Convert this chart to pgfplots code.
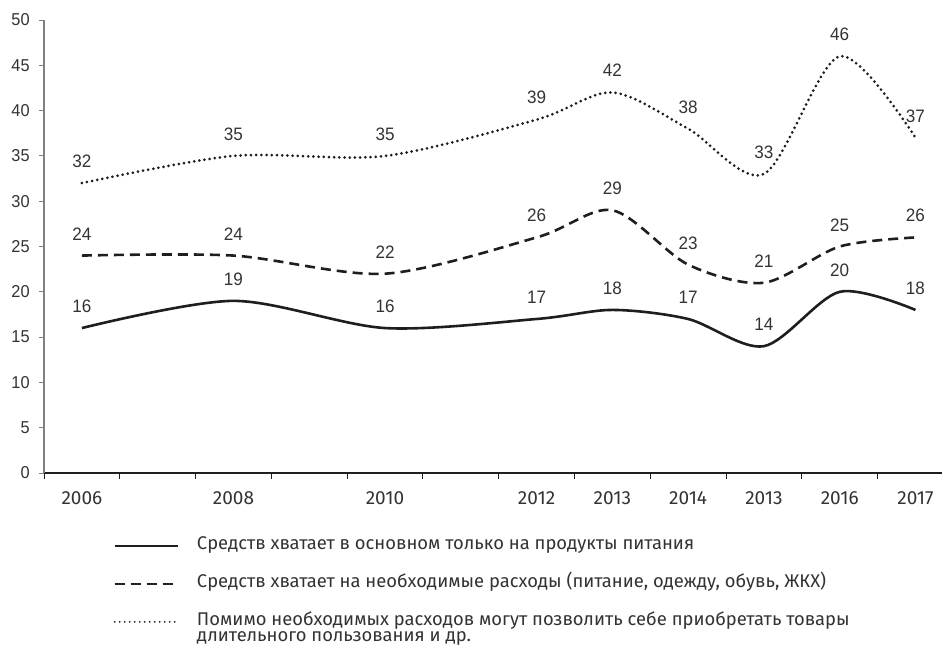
\documentclass[border=0pt]{standalone}
\usepackage{fontspec}
\setmainfont{Fira Sans}
\newfontfamily\numfont[FakeStretch=0.95]{Liberation Sans}
\usepackage{pgfplots}
\pgfplotsset{compat=1.18}
\definecolor{txt}{HTML}{333333}
\definecolor{ln}{HTML}{1E1E1E}

\begin{document}
\begin{tikzpicture}
\useasboundingbox (-22pt,-85.5pt) rectangle (449pt,236.5pt);
\begin{axis}[
  scale only axis, width=449pt, height=226.5pt,
  xmin=0, xmax=11.85, ymin=0, ymax=50,
  axis lines*=left,
  x axis line style={draw=ln, line width=0.8pt},
  y axis line style={draw=gray, line width=0.6pt},
  tick align=outside,
  xtick={0.5,2.5,4.5,6.5,7.5,8.5,9.5,10.5,11.5},
  xticklabels={2006,2008,2010,2012,2013,2014,2013,2016,2017},
  major x tick style={draw=none},
  minor xtick={0,1,...,11},
  minor tick length=3pt,
  minor x tick style={draw=ln, line width=0.5pt},
  ytick={0,5,...,50},
  major tick length=2.5pt,
  major y tick style={draw=gray, line width=0.5pt},
  xticklabel style={font=\fontsize{9.5}{11}\selectfont, text=txt, yshift=-3.5pt},
  yticklabel style={font=\numfont\fontsize{8.6}{10}\selectfont, text=txt, inner xsep=4.5pt},
  /pgf/number format/assume math mode=true,
  clip=false,
  nodes near coords,
  every node near coord/.append style={font=\numfont\fontsize{9}{11}\selectfont, text=txt, anchor=south, inner sep=0pt, yshift=7pt},
  legend style={at={(0.0768,-0.1567)}, anchor=north west, draw=none, fill=none,
    inner sep=0pt, row sep=17.5pt, column sep=9pt,
    nodes={inner sep=0pt, text=txt, font=\fontsize{9.2}{11}\selectfont}},
  legend cell align=left,
  legend image code/.code={\draw[#1] (0pt,0pt) -- (31.5pt,0pt);},
]
\addplot[ln, line width=1.3pt, smooth] coordinates {
  (0.5,16) (2.5,19) (4.5,16) (6.5,17) (7.5,18) (8.5,17) (9.5,14) (10.5,20) (11.5,18)};
\addlegendentry{\smash{\raisebox{-2.5pt}{Средств хватает в основном только на продукты питания}}}
\addplot[ln, line width=1.3pt, smooth, dash pattern=on 5pt off 3pt] coordinates {
  (0.5,24) (2.5,24) (4.5,22) (6.5,26) (7.5,29) (8.5,23) (9.5,21) (10.5,25) (11.5,26)};
\addlegendentry{\smash{\raisebox{-2.5pt}{Средств хватает на необходимые расходы (питание, одежду, обувь, ЖКХ)}}}
\addplot[ln, line width=1.5pt, smooth, line cap=round, dash pattern=on 0pt off 2.6pt, forget plot] coordinates {
  (0.5,32) (2.5,35) (4.5,35) (6.5,39) (7.5,42) (8.5,38) (9.5,33) (10.5,46) (11.5,37)};
\addlegendimage{ln, line width=1pt, line cap=round, dash pattern=on 0pt off 2.5pt}
\addlegendentry{\smash{\raisebox{-2.5pt}{\def\arraystretch{0.75}\begin{tabular}[t]{@{}l@{}}Помимо необходимых расходов могут позволить себе приобретать товары\\длительного пользования и др.\end{tabular}}}}
\end{axis}
\end{tikzpicture}
\end{document}
